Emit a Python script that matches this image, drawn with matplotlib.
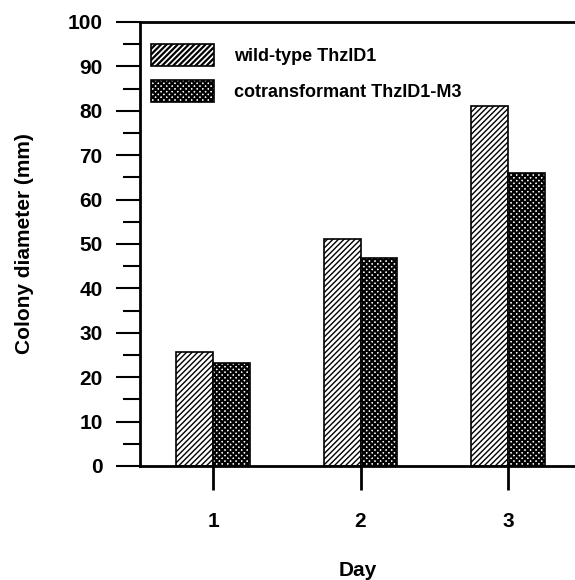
import matplotlib.pyplot as plt
import numpy as np
from matplotlib.ticker import MultipleLocator

plt.rcParams['font.family'] = ['Liberation Sans', 'DejaVu Sans']
plt.rcParams['font.weight'] = 'bold'

days = [1, 2, 3]
wild_type = [25.7, 51.2, 81.0]
cotransformant = [23.3, 46.8, 66.0]
labels = ['wild-type ThzID1', 'cotransformant ThzID1-M3']

fig = plt.figure(figsize=(5.75, 5.8), dpi=100)
ax = fig.add_axes([0.2435, 0.1966, 0.7565, 0.7655])

x = np.array(days)
w = 0.25

# diagonal hatch, thin lines
plt.rcParams['hatch.linewidth'] = 1.0
b1 = ax.bar(x - w / 2, wild_type, w, facecolor='white', edgecolor='black',
            hatch='//////', linewidth=1.2, label=labels[0])
# dense cross hatch, heavier lines
plt.rcParams['hatch.linewidth'] = 1.6
b2 = ax.bar(x + w / 2, cotransformant, w, facecolor='white', edgecolor='black',
            hatch='xxxxxx', linewidth=1.2, label=labels[1])
for p in b1:
    if hasattr(p, 'set_hatch_linewidth'):
        p.set_hatch_linewidth(1.0)
for p in b2:
    if hasattr(p, 'set_hatch_linewidth'):
        p.set_hatch_linewidth(1.6)

ax.set_xlim(0.505, 3.454)
ax.set_ylim(0, 100)
ax.set_xticks(days)
ax.yaxis.set_major_locator(MultipleLocator(10))
ax.yaxis.set_minor_locator(MultipleLocator(5))
ax.tick_params(axis='y', which='major', length=17, width=1.5, labelsize=15, pad=10)
ax.tick_params(axis='y', which='minor', length=12, width=1.5)
ax.tick_params(axis='x', length=17, width=2, labelsize=15, pad=16)
ax.spines['right'].set_visible(False)
for s in ['left', 'bottom', 'top']:
    ax.spines[s].set_linewidth(2)

ax.set_ylabel('Colony diameter (mm)', fontsize=15, fontweight='bold', labelpad=24)
ax.set_xlabel('Day', fontsize=15, fontweight='bold', labelpad=22)

leg = ax.legend(loc='upper left', frameon=False, fontsize=13, handlelength=3.5,
                handleheight=1.5, handletextpad=1.1, labelspacing=0.8,
                bbox_to_anchor=(0.0, 0.975), borderaxespad=0.2)

fig.savefig('out.png', dpi=100)
